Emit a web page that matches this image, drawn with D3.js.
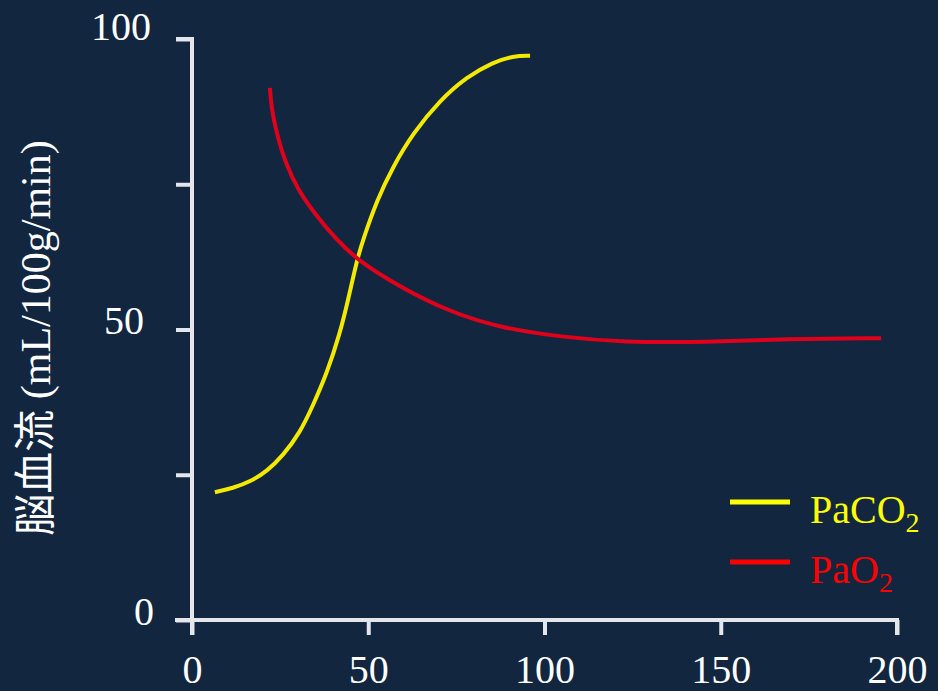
<!DOCTYPE html>
<html>
<head>
<meta charset="utf-8">
<script src="https://cdn.jsdelivr.net/npm/d3@7"></script>
<style>
  html, body { margin: 0; padding: 0; background: #12263f; }
  svg { display: block; }
  .serif { font-family: "Liberation Serif", "Times New Roman", Times, serif; }
</style>
</head>
<body>
<svg id="chart" width="938" height="691"></svg>
<script>
// ---- data ----
const paco2X = [6.5, 11.6, 16.5, 21.3, 25.8, 30.6, 34.3, 38.3, 42.0, 44.3, 46.8, 48.5, 52.5, 57.0, 62.7, 70.4, 78.0, 85.4, 91.1, 95.9];
const paco2Y = [22.0, 22.7, 23.8, 25.6, 28.3, 32.2, 36.9, 42.5, 49.4, 55.1, 62.0, 65.4, 72.3, 78.0, 83.8, 89.5, 93.5, 96.0, 97.1, 97.1];
const pao2X  = [22.1, 22.4, 22.8, 24.3, 26.4, 30.0, 35.5, 41.1, 46.8, 59.0, 73.2, 87.4, 104.7, 122.3, 145.8, 169.4, 195.5];
const pao2Y  = [91.6, 89.4, 87.3, 83.1, 78.9, 74.0, 69.4, 65.4, 62.0, 57.3, 53.0, 50.3, 48.7, 47.8, 47.8, 48.4, 48.5];
const xTicks = [0, 50, 100, 150, 200];
const yTicks = [0, 25, 50, 75, 100];
const yTickLabels = ["0", "", "50", "", "100"];
const seriesNames = ["PaCO", "PaO"];
const yLabelCJK = "脳血流";
const yLabelUnit = " (mL/100g/min)";

// ---- layout ----
const svg = d3.select("#chart");
const x = d3.scaleLinear().domain([0, 200]).range([192, 897]);
const y = d3.scaleLinear().domain([0, 100]).range([620, 39]);
const axisColor = "#e4e6ec";

// y axis
const gy = svg.append("g").attr("transform", `translate(${x(0)},0)`)
  .call(d3.axisLeft(y).tickValues(yTicks).tickSize(16).tickPadding(25)
    .tickFormat((d, i) => yTickLabels[i]));
// x axis
const gx = svg.append("g").attr("transform", `translate(0,${y(0)})`)
  .call(d3.axisBottom(x).tickValues(xTicks).tickSize(15).tickPadding(20).tickSizeOuter(15));

[gx, gy].forEach(g => {
  g.attr("font-family", null).attr("font-size", null);
  g.selectAll("path.domain").attr("stroke", axisColor).attr("stroke-width", 4);
  g.selectAll(".tick line").attr("stroke", axisColor).attr("stroke-width", 4);
  g.selectAll(".tick text").attr("fill", "#ffffff").attr("class", "serif")
    .style("font-size", "40px");
});
gx.select("path.domain").attr("d", `M${x(0) - 17},0H${x(200)}V15`);
gy.select("path.domain").attr("d", `M-16,${y(100)}H0V${y(0) + 15}`);
gy.selectAll(".tick text").attr("dy", "0.1em");
gy.selectAll(".tick").filter(d => d === 100).select("text").attr("dy", "0.0em").attr("x", -41);
gy.selectAll(".tick").filter(d => d === 50).select("text").attr("x", -48);
gy.selectAll(".tick").filter(d => d === 0).select("text").attr("x", -38);

// y label
const yl = svg.append("text")
  .attr("transform", "translate(50,338) rotate(-90)")
  .attr("text-anchor", "middle")
  .attr("fill", "#ffffff")
  .style("font-size", "42px");
yl.append("tspan").style("font-family", "'Noto Sans CJK JP', sans-serif").text(yLabelCJK);
yl.append("tspan").attr("class", "serif").text(yLabelUnit);

// lines
const line = d3.line().x(d => x(d[0])).y(d => y(d[1])).curve(d3.curveBasis);
const series = [
  { xs: paco2X, ys: paco2Y, color: "#f4ea00", legendColor: "#ffff00" },
  { xs: pao2X, ys: pao2Y, color: "#e0001b", legendColor: "#ff0000" }
];
series.forEach(s => {
  svg.append("path")
    .datum(s.xs.map((v, i) => [v, s.ys[i]]))
    .attr("fill", "none")
    .attr("stroke", s.color)
    .attr("stroke-width", 4)
    .attr("d", line);
});

// legend
series.forEach((s, i) => {
  const ly = 502 + i * 60;
  svg.append("line")
    .attr("x1", 730).attr("x2", 790).attr("y1", ly).attr("y2", ly)
    .attr("stroke", s.legendColor).attr("stroke-width", 5);
  const t = svg.append("text")
    .attr("x", 810).attr("y", ly + 21)
    .attr("class", "serif")
    .attr("fill", s.legendColor)
    .style("font-size", "40px");
  t.append("tspan").text(seriesNames[i]);
  t.append("tspan").attr("dy", 9).style("font-size", "28px").text("2");
});
</script>
</body>
</html>
